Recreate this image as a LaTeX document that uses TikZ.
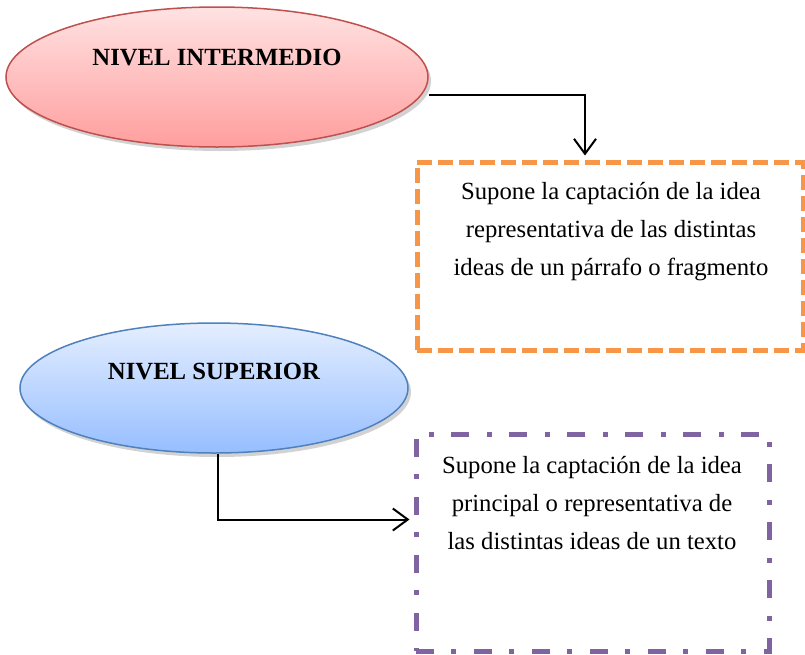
\documentclass[tikz,border=0pt]{standalone}
\usepackage{fontspec}
\setmainfont{Liberation Serif}
\usepackage{xcolor}
\usepackage{tikz}
\usetikzlibrary{shapes.geometric,shadows,arrows.meta}
\definecolor{redline}{RGB}{192,80,77}
\definecolor{redtop}{RGB}{255,226,226}
\definecolor{redbot}{RGB}{255,158,158}
\definecolor{blueline}{RGB}{79,129,189}
\definecolor{bluetop}{RGB}{228,238,255}
\definecolor{bluebot}{RGB}{150,190,255}
\definecolor{orangeline}{RGB}{247,150,70}
\definecolor{purpleline}{RGB}{128,100,162}
\tikzset{ell/.style={ellipse,draw,line width=1.5pt,inner sep=0pt,
    drop shadow={shadow xshift=3pt,shadow yshift=-4pt,fill=black!35}},
  title/.style={font=\fontsize{24.7}{30}\selectfont\bfseries},
  txt/.style={align=center,font=\fontsize{24.7}{38}\selectfont},
  frame/.style={rectangle,draw,line width=5pt,inner sep=0pt}}

\begin{document}
\begin{tikzpicture}[x=1pt,y=-1pt,>={Straight Barb[length=15pt,width=22pt]}]
    \useasboundingbox (0,0) rectangle (805,654);
    \node[ell,redline,top color=redtop,bottom color=redbot,minimum width=422,minimum height=140,
      label={[title,anchor=center,yshift=19pt]center:NIVEL INTERMEDIO}] (inter) at (217,77) {};
    \node[ell,blueline,top color=bluetop,bottom color=bluebot,minimum width=388,minimum height=130,
      label={[title,anchor=center,yshift=16pt]center:NIVEL SUPERIOR}] (super) at (214,388) {};

    \node[frame,orangeline,dash pattern=on 15pt off 6pt,minimum width=386,minimum height=188] (boxa) at (610,256) {};
    \node[frame,purpleline,dash pattern=on 18pt off 17pt on 5pt off 18pt,minimum width=353,minimum height=217] (boxb) at (592.5,542.5) {};

    \node[txt] (texta) at (611,232) {Supone la captación de la idea\\representativa de las distintas\\ideas de un párrafo o fragmento};
    \node[txt] (textb) at (592,503) {Supone la captación de la idea\\principal o representativa de\\las distintas ideas de un texto};

    \draw [->,line width=2pt,shorten >=4pt] ([yshift=-18pt]inter.east) -| ([xshift=-25pt]boxa.north);
    \draw [->,line width=2pt,shorten >=4pt] ([xshift=4pt]super.south) |- ([yshift=23pt]boxb.west);
\end{tikzpicture}
\end{document}
